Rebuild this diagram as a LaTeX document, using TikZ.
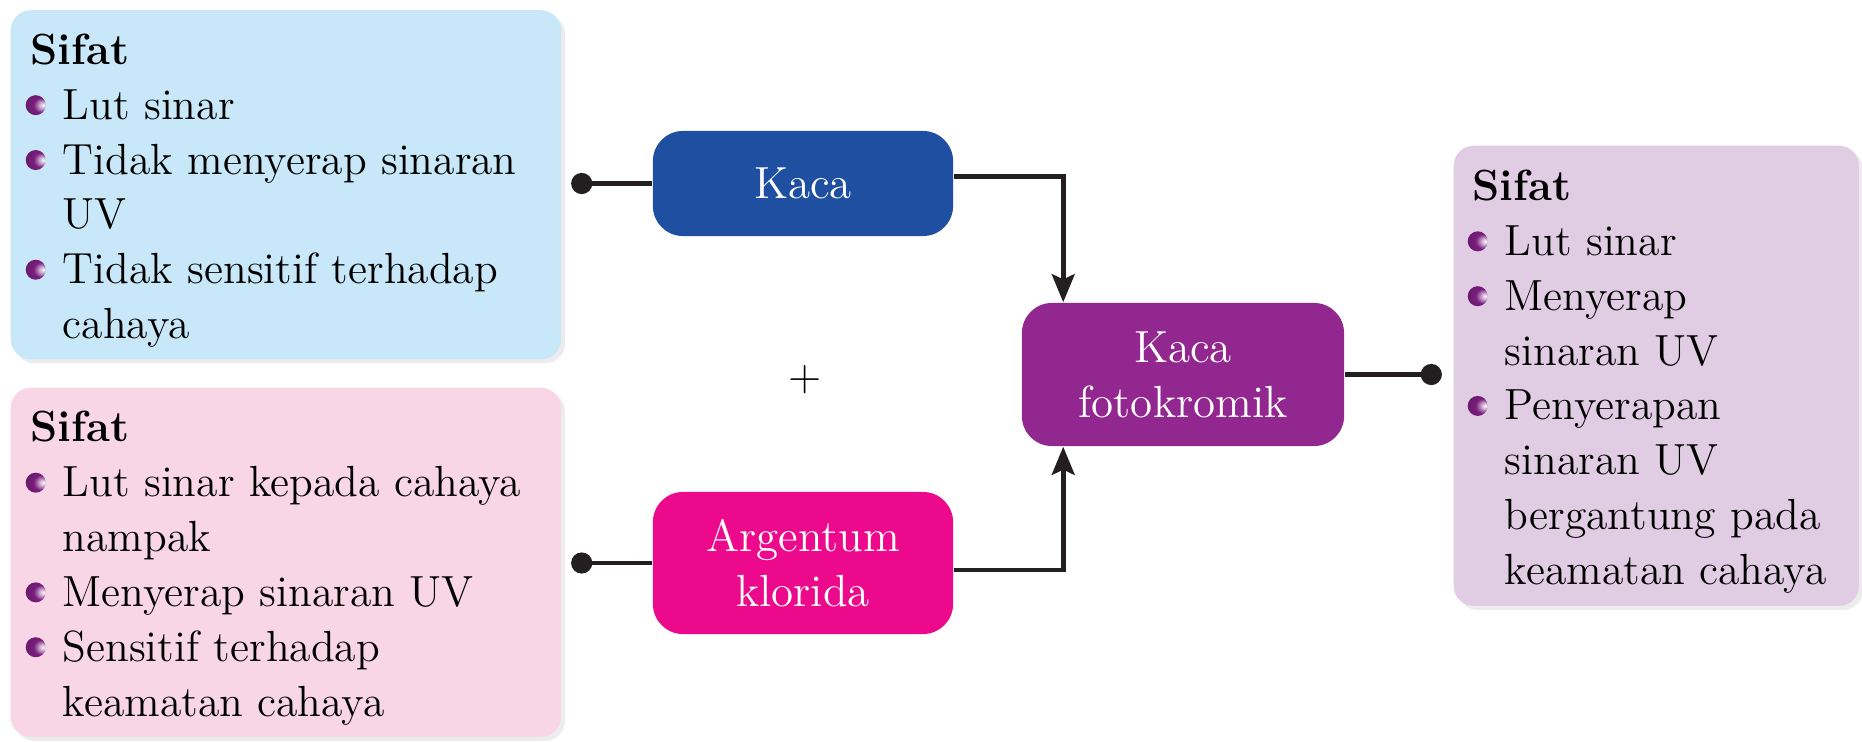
\documentclass[tikz,border=0pt]{standalone}
\usepackage{tikz}
\usetikzlibrary{arrows.meta,positioning,shadows}

\definecolor{kacaprop}{HTML}{C8E8FA}
\definecolor{agclprop}{HTML}{F8D6E6}
\definecolor{fotoprop}{HTML}{E1CDE3}
\definecolor{kacablue}{HTML}{1E4FA0}
\definecolor{agclpink}{HTML}{EC098C}
\definecolor{fotopurple}{HTML}{92278F}
\definecolor{bulpurple}{HTML}{7A1E7E}
\definecolor{linkgray}{HTML}{231F20}

\pgfdeclareradialshading{bulball}{\pgfpoint{20bp}{0bp}}{color(0bp)=(white); color(7bp)=(bulpurple!35); color(18bp)=(bulpurple); color(45bp)=(bulpurple!75!black); color(50bp)=(bulpurple!75!black)}

\newcommand{\sbul}{\makebox[0.32cm][l]{\hspace{-0.05cm}\tikz[baseline=-0.14cm]\shade[shading=bulball] (0,0) circle (0.1cm);}}
\newcommand{\sind}{\hspace*{0.32cm}}
\newcommand{\sifat}{\rule{0pt}{12pt}{\bfseries Sifat}}

\tikzset{
  txt/.style={font=\fontsize{12.4}{15.6}\selectfont},
  prop/.style={txt, rectangle, rounded corners=0.2cm, anchor=north west, align=left,
    text width=5.1cm, inner xsep=0.2cm,
    drop shadow={shadow xshift=0.04cm, shadow yshift=-0.04cm, opacity=0.15}},
  mat/.style={font=\fontsize{12.8}{15.6}\selectfont, rectangle, rounded corners=0.3cm, text=white, align=center, minimum width=3cm},
  link/.style={draw=linkgray, line width=1.3pt},
}

\begin{document}
\begin{tikzpicture}[x=0.01cm, y=-0.01cm]
        \useasboundingbox (0,0) rectangle (1862,742);
        \node[prop, fill=kacaprop, minimum height=3.49cm] (kacasifat) at (10,9.5) {\sifat\\
          \sbul Lut sinar\\
          \sbul Tidak menyerap sinaran\\
          \sind UV\\
          \sbul Tidak sensitif terhadap\\
          \sind cahaya};
        \node[prop, fill=agclprop, minimum height=3.49cm] (agclsifat) at (10,387) {\sifat\\
          \sbul Lut sinar kepada cahaya\\
          \sind nampak\\
          \sbul Menyerap sinaran UV\\
          \sbul Sensitif terhadap\\
          \sind keamatan cahaya};
        \node[prop, fill=fotoprop, text width=3.67cm, inner xsep=0.19cm, minimum height=4.6cm] (fotosifat) at (1453,145) {\sifat\\
          \sbul Lut sinar\\
          \sbul Menyerap\\
          \sind sinaran UV\\
          \sbul Penyerapan\\
          \sind sinaran UV\\
          \sind bergantung pada\\
          \sind keamatan cahaya};

        \node[mat, fill=kacablue, minimum height=1.05cm] (kaca) at (803,183.5) {Kaca};
        \node[mat, fill=agclpink, minimum height=1.42cm] (agcl) at (803,563) {Argentum\\klorida};
        \node[mat, fill=fotopurple, minimum width=3.22cm, minimum height=1.43cm] (foto) at (1183,374.5) {Kaca\\fotokromik};
        \node[txt] (plus) at (805,380) {+};

        \coordinate[left=0.81cm of kaca.west] (kacadot);
        \coordinate[left=0.81cm of agcl.west] (agcldot);
        \coordinate[right=0.97cm of foto.east] (fotodot);

        \draw[link, {Circle[length=6pt]}-] (kacadot) -- (kaca);
        \draw[link, {Circle[length=6pt]}-] (agcldot) -- (agcl);
        \draw[link, -{Circle[length=6pt]}] (foto) -- (fotodot);
        \draw[link, -{Stealth[length=8pt, width=6.5pt, inset=1.5pt]}] ([yshift=0.07cm]kaca.east) -| ([xshift=0.42cm]foto.north west);
        \draw[link, -{Stealth[length=8pt, width=6.5pt, inset=1.5pt]}] ([yshift=-0.07cm]agcl.east) -| ([xshift=0.42cm]foto.south west);
\end{tikzpicture}
\end{document}
